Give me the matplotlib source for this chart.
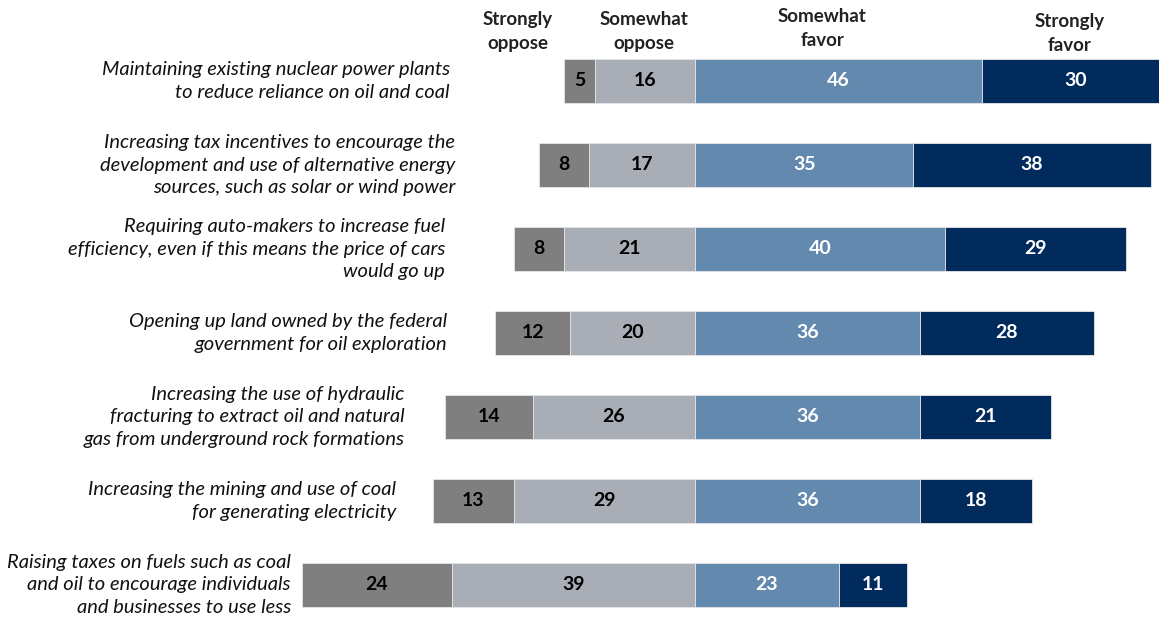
import matplotlib.pyplot as plt
import numpy as np

plt.rcParams["font.family"] = ["Lato", "DejaVu Sans"]

questions = [
    "Maintaining existing nuclear power plants\nto reduce reliance on oil and coal",
    "Increasing tax incentives to encourage the\ndevelopment and use of alternative energy\nsources, such as solar or wind power",
    "Requiring auto-makers to increase fuel\nefficiency, even if this means the price of cars\nwould go up",
    "Opening up land owned by the federal\ngovernment for oil exploration",
    "Increasing the use of hydraulic\nfracturing to extract oil and natural\ngas from underground rock formations",
    "Increasing the mining and use of coal\nfor generating electricity",
    "Raising taxes on fuels such as coal\nand oil to encourage individuals\nand businesses to use less",
]
strongly_oppose = [5, 8, 8, 12, 14, 13, 24]
somewhat_oppose = [16, 17, 21, 20, 26, 29, 39]
somewhat_favor = [46, 35, 40, 36, 36, 36, 23]
strongly_favor = [30, 38, 29, 28, 21, 18, 11]

headers = ["Strongly\noppose", "Somewhat\noppose", "Somewhat\nfavor", "Strongly\nfavor"]

# layout only: where the headers and the row labels sit
header_x = [-28.4, -8.2, 20.4, 60.0]
header_y = [-0.59, -0.59, -0.62, -0.57]
label_right = [0.388, 0.393, 0.384, 0.386, 0.349, 0.342, 0.251]

c_so = "#7f7f7f"
c_wo = "#a9adb5"
c_wf = "#6389ae"
c_sf = "#002b5c"

so = np.array(strongly_oppose)
wo = np.array(somewhat_oppose)
wf = np.array(somewhat_favor)
sf = np.array(strongly_favor)
y = np.arange(len(questions))

fig = plt.figure(figsize=(11.59, 6.22), dpi=100)
ax = fig.add_axes([0, 0, 1, 1])

h = 0.52
segs = [
    (-(so + wo), so, c_so, "black"),
    (-wo, wo, c_wo, "black"),
    (np.zeros_like(wf), wf, c_wf, "white"),
    (wf, sf, c_sf, "white"),
]
for left, width, color, tcol in segs:
    ax.barh(y, width, left=left, height=h, color=color, edgecolor="#e6e6e6", linewidth=0.6)
    for yi, l, w in zip(y, left, width):
        ax.text(l + w / 2, yi, str(w), ha="center", va="center",
                color=tcol, fontsize=14, fontweight="bold")

for hx, hy, txt in zip(header_x, header_y, headers):
    ax.text(hx, hy, txt, ha="center", va="center", fontsize=13.5,
            fontweight="bold", color="#222222", linespacing=1.5)

for yi, q, xr in zip(y, questions, label_right):
    ax.text(xr, yi, q, transform=ax.get_yaxis_transform(), ha="right", va="center",
            fontsize=14.5, fontstyle="italic", color="#111111", linespacing=1.42)

px = 6.24
center = 695
ax.set_xlim(-center / px, (1159 - center) / px)
ax.set_ylim((622 - 81) / 84, -81 / 84)
ax.axis("off")

fig.savefig("out.png", dpi=100)
